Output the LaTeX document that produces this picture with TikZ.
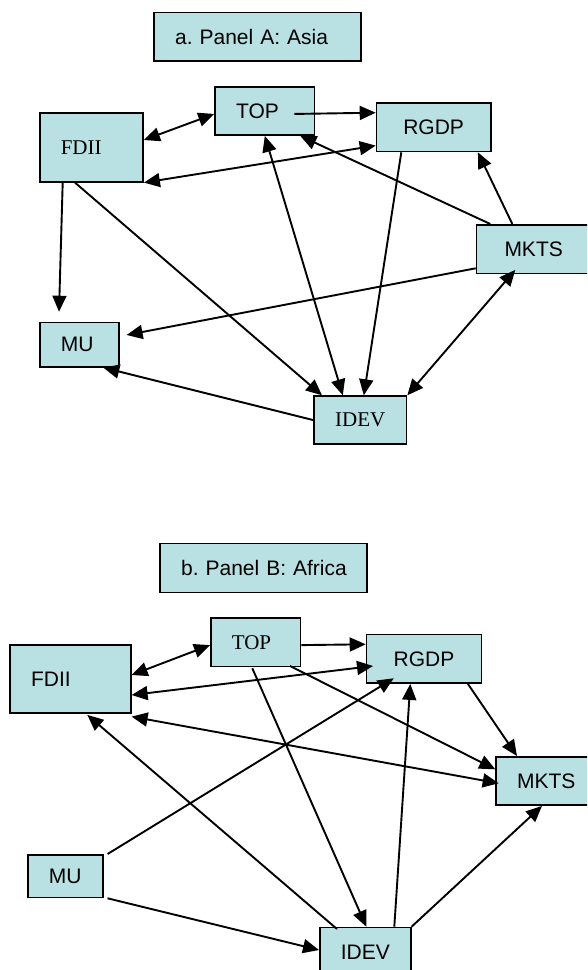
\documentclass[tikz,border=0pt]{standalone}
\usepackage{fontspec}
\setmainfont{Liberation Serif}
\setsansfont{Liberation Sans}
\usetikzlibrary{arrows.meta}
\definecolor{boxblue}{RGB}{185,224,227}
\frenchspacing

\begin{document}
\begin{tikzpicture}[x=1pt,y=-1pt,line width=1.9pt,
  >={Triangle[length=16pt,width=14pt]},
  box/.style={draw,fill=boxblue,line width=1.6pt,anchor=north west,
    inner xsep=21pt,inner ysep=0pt,align=left,
    font=\sffamily\fontsize{21}{24}\selectfont},
  rmbox/.style={box,font=\rmfamily\fontsize{21}{24}\selectfont}]
\useasboundingbox (0,0) rectangle (587,970);
\clip (0,0) rectangle (587,970);
\node[box,text width=165pt,minimum height=48.3pt] (titleA) at (153.3,11.7) {\mbox{a. Panel A: Asia}};
\node[box,text width=57.4pt,minimum height=48.3pt] (topA) at (214.3,86) {TOP};
\node[box,align=center,text width=72.3pt,minimum height=48.4pt] (rgdpA) at (375.7,102.3) {RGDP};
\node[rmbox,text width=61.3pt,minimum height=68.7pt] (fdiiA) at (39,112.3) {FDII};
\node[box,inner xsep=28pt,text width=70pt,minimum height=48.7pt] (mktsA) at (475.7,224) {MKTS};
\node[box,text width=37.3pt,minimum height=44.3pt] (muA) at (39,321.7) {MU};
\node[rmbox,text width=50.4pt,minimum height=48pt] (idevA) at (313.3,395.3) {IDEV};
\draw[<->] ([yshift=-27.7pt]fdiiA.north east) -- ([yshift=-3pt]topA.west);
\draw[->] ([xshift=-21pt,yshift=-3pt]topA.east) -- ([yshift=-10.4pt]rgdpA.north west);
\draw[<->] (fdiiA.south east) -- ([yshift=6.7pt]rgdpA.south west);
\draw[->] ([xshift=14.6pt]mktsA.north west) -- ([xshift=-15pt]topA.south east);
\draw[->] ([xshift=36.6pt]mktsA.north west) -- ([xshift=-13.7pt]rgdpA.south east);
\draw[->] ([xshift=25.6pt]rgdpA.south west) -- ([xshift=3.5pt]idevA.north);
\draw[<->] (topA.south) -- ([xshift=-17.5pt]idevA.north);
\draw[->] ([xshift=36pt]fdiiA.south west) -- ([xshift=8.7pt]idevA.north west);
\draw[->] ([xshift=23.7pt]fdiiA.south west) -- ([xshift=20pt,yshift=10pt]muA.north west);
\draw[->] ([yshift=6pt]mktsA.south west) -- ([xshift=6.7pt,yshift=-13.3pt]muA.north east);
\draw[->] (idevA.west) -- ([xshift=-16.6pt]muA.south east);
\draw[<->] (idevA.north east) -- ([xshift=39.6pt,yshift=4.4pt]mktsA.south west);

\node[box,text width=165pt,minimum height=49pt] (titleB) at (159.3,542.7) {\mbox{b. Panel B: Africa}};
\node[rmbox,text width=47.7pt,minimum height=48.4pt] (topB) at (210,617.3) {TOP};
\node[box,align=center,text width=73pt,minimum height=48.6pt] (rgdpB) at (365.7,633.7) {RGDP};
\node[box,text width=78.7pt,minimum height=68.3pt] (fdiiB) at (9.3,644) {FDII};
\node[box,text width=62pt,minimum height=48.3pt] (mktsB) at (495.3,756) {MKTS};
\node[box,text width=33pt,minimum height=42.7pt] (muB) at (27,854) {MU};
\node[box,text width=49pt,minimum height=50pt] (idevB) at (319,926.7) {IDEV};
\draw[<->] ([yshift=-31pt]fdiiB.north east) -- ([yshift=-2.8pt]topB.west);
\draw[->] ([yshift=-2.8pt]topB.east) -- ([yshift=-10.6pt]rgdpB.north west);
\draw[<->] ([yshift=-51pt]fdiiB.north east) -- ([xshift=7.3pt,yshift=-32.3pt]rgdpB.north west);
\draw[<->] ([yshift=-2.7pt]fdiiB.south east) -- ([xshift=3.4pt,yshift=-27.3pt]mktsB.north west);
\draw[->] ([xshift=18pt,yshift=-2.3pt]idevB.north west) -- ([xshift=78pt,yshift=-1pt]fdiiB.south west);
\draw[->] ([xshift=4pt]muB.north east) -- ([xshift=28pt,yshift=5.6pt]rgdpB.south west);
\draw[->] ([xshift=4pt]muB.south east) -- ([yshift=-23.3pt]idevB.north west);
\draw[->] ([xshift=42.3pt,yshift=-1pt]topB.south west) -- ([xshift=47.3pt]idevB.north west);
\draw[->] ([xshift=75.3pt]idevB.north west) -- ([xshift=44.6pt]rgdpB.south west);
\draw[->] ([xshift=-11.4pt,yshift=1.4pt]topB.south east) -- ([yshift=-13.3pt]mktsB.north west);
\draw[->] ([xshift=-14.4pt]rgdpB.south east) -- ([xshift=21.7pt]mktsB.north west);
\draw[->] (idevB.north east) -- ([xshift=46.7pt]mktsB.south west);
\end{tikzpicture}
\end{document}
